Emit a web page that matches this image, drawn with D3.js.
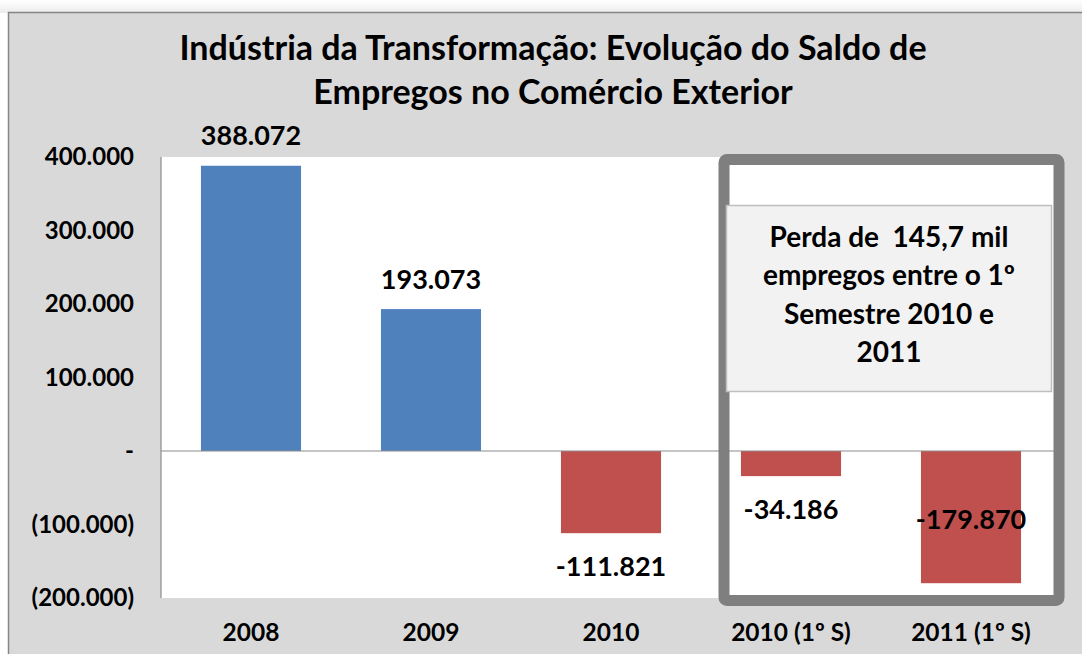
<!DOCTYPE html>
<html>
<head>
    <meta charset="utf-8">
    <title>Indústria da Transformação</title>
    <script src="https://d3js.org/d3.v7.min.js"></script>
    <style>
        body { margin: 0; background: #fff; }
        text { font-family: "Lato", "Open Sans", sans-serif; font-weight: bold; fill: #000; }
        .axis-label { font-size: 24px; }
        .cat-label { font-size: 24.5px; }
        .value-label { font-size: 27px; }
        .title { font-size: 34px; }
        .note { font-size: 28px; }
    </style>
</head>
<body>
<div id="chart"></div>
<script>
    // data
    var categories = ["2008", "2009", "2010", "2010 (1º S)", "2011 (1º S)"];
    var values = [388072, 193073, -111821, -34186, -179870];
    var valueLabels = ["388.072", "193.073", "-111.821", "-34.186", "-179.870"];
    var tickValues = [400000, 300000, 200000, 100000, 0, -100000, -200000];
    var tickLabels = ["400.000", "300.000", "200.000", "100.000", "-", "(100.000)", "(200.000)"];
    var titleLines = ["Indústria da Transformação: Evolução do Saldo de", "Empregos no Comércio Exterior"];
    var noteLines = ["Perda de  145,7 mil", "empregos entre o 1º", "Semestre 2010 e", "2011"];

    var W = 1082, H = 654;
    var plot = { left: 161, right: 1061, top: 157, bottom: 598 };

    var svg = d3.select("#chart").append("svg")
        .attr("width", W)
        .attr("height", H);

    // faint shadow above the chart area
    var defs = svg.append("defs");
    var g1 = defs.append("linearGradient").attr("id", "shTop").attr("x1", 0).attr("y1", 0).attr("x2", 0).attr("y2", 1);
    g1.append("stop").attr("offset", 0).attr("stop-color", "#fff");
    g1.append("stop").attr("offset", 1).attr("stop-color", "#ececec");
    svg.append("rect").attr("x", 0).attr("y", 0).attr("width", W).attr("height", 13).attr("fill", "url(#shTop)");

    // chart area (gray)
    svg.append("rect")
        .attr("x", 8.5).attr("y", 12.5)
        .attr("width", W).attr("height", H)
        .attr("fill", "#d9d9d9")
        .attr("stroke", "#868686")
        .attr("stroke-width", 1.5);

    // title
    svg.selectAll(".title")
        .data(titleLines)
        .enter().append("text")
        .attr("class", "title")
        .attr("x", 553)
        .attr("y", (d, i) => 60 + i * 44)
        .attr("text-anchor", "middle")
        .text(d => d);

    var x = d3.scaleBand()
        .domain(categories)
        .range([plot.left, plot.right])
        .paddingInner(0.444)
        .paddingOuter(0.222);

    var y = d3.scaleLinear()
        .domain([-200000, 400000])
        .range([plot.bottom, plot.top]);

    // plot area
    svg.append("rect")
        .attr("x", plot.left).attr("y", plot.top)
        .attr("width", plot.right - plot.left)
        .attr("height", plot.bottom - plot.top)
        .attr("fill", "#fff");

    // y axis labels
    svg.selectAll(".axis-label")
        .data(tickValues)
        .enter().append("text")
        .attr("class", "axis-label")
        .attr("x", 134)
        .attr("y", d => y(d))
        .attr("dy", "0.35em")
        .attr("text-anchor", "end")
        .text((d, i) => tickLabels[i]);

    // bars
    svg.selectAll(".bar")
        .data(values)
        .enter().append("rect")
        .attr("class", "bar")
        .attr("x", (d, i) => x(categories[i]))
        .attr("width", x.bandwidth())
        .attr("y", d => y(Math.max(0, d)))
        .attr("height", d => Math.abs(y(d) - y(0)))
        .attr("fill", d => d >= 0 ? "#4f81bd" : "#c0504d");

    // axis lines
    svg.append("line")
        .attr("x1", plot.left).attr("x2", plot.right)
        .attr("y1", y(0)).attr("y2", y(0))
        .attr("stroke", "#8c8c8c").attr("stroke-width", 1.2);
    svg.append("line")
        .attr("x1", plot.left).attr("x2", plot.left)
        .attr("y1", plot.top).attr("y2", plot.bottom)
        .attr("stroke", "#8c8c8c").attr("stroke-width", 1.2);

    // value labels (last one sits inside its bar, like the original)
    svg.selectAll(".value-label")
        .data(values)
        .enter().append("text")
        .attr("class", "value-label")
        .attr("x", (d, i) => x(categories[i]) + x.bandwidth() / 2)
        .attr("y", (d, i) => {
            if (i === 4) return y(d) - 64;
            return d >= 0 ? y(d) - 30 : y(d) + 33;
        })
        .attr("dy", "0.35em")
        .attr("text-anchor", "middle")
        .text((d, i) => valueLabels[i]);

    // category labels
    svg.selectAll(".cat-label")
        .data(categories)
        .enter().append("text")
        .attr("class", "cat-label")
        .attr("x", d => x(d) + x.bandwidth() / 2)
        .attr("y", 632)
        .attr("dy", "0.35em")
        .attr("text-anchor", "middle")
        .text(d => d);

    // highlight box around the semesters
    svg.append("rect")
        .attr("x", 724).attr("y", 159.5)
        .attr("width", 335).attr("height", 441)
        .attr("rx", 3)
        .attr("fill", "none")
        .attr("stroke", "#7f7f7f")
        .attr("stroke-width", 11);

    // note
    svg.append("rect")
        .attr("x", 726.5).attr("y", 205.5)
        .attr("width", 325).attr("height", 186)
        .attr("fill", "#f2f2f2")
        .attr("stroke", "#bfbfbf")
        .attr("stroke-width", 1.5);

    svg.selectAll(".note")
        .data(noteLines)
        .enter().append("text")
        .attr("class", "note")
        .attr("x", 889)
        .attr("y", (d, i) => 237 + i * 38.5)
        .attr("dy", "0.35em")
        .attr("text-anchor", "middle")
        .style("white-space", "pre")
        .text(d => d);
</script>
</body>
</html>
